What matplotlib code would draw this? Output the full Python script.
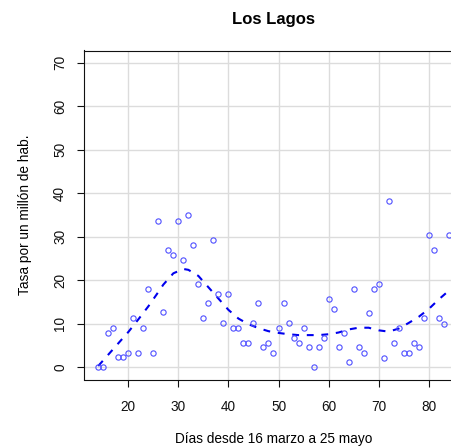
import matplotlib
matplotlib.use("Agg")
import matplotlib.pyplot as plt

# datos: dias desde el inicio y tasa por millon de habitantes
dias = list(range(14, 85))
tasa = [0.0, 0.0, 7.8, 9.1, 2.3, 2.3, 3.4, 11.3, 3.4, 9.1,
        17.9, 3.4, 33.6, 12.6, 27.0, 25.8, 33.6, 24.7, 34.9, 28.2,
        19.1, 11.3, 14.7, 29.2, 16.9, 10.1, 16.9, 9.1, 9.1, 5.7,
        5.7, 10.1, 14.7, 4.7, 5.7, 3.4, 9.1, 14.7, 10.1, 6.8,
        5.7, 9.1, 4.7, 0.0, 4.7, 6.8, 15.7, 13.5, 4.7, 7.8,
        1.2, 17.9, 4.7, 3.4, 12.5, 17.9, 19.1, 2.2, 38.2, 5.6,
        9.1, 3.4, 3.4, 5.7, 4.7, 11.3, 30.4, 27.0, 11.3, 10.0,
        30.4]

# curva suavizada (loess)
suave_x = [14, 16, 18, 20, 22, 24, 26, 27, 29, 31, 32, 34, 36, 38, 40,
           42, 44, 46, 48, 50, 52, 54, 56, 58, 60, 62, 64, 66, 68, 70,
           72, 74, 76, 78, 80, 82, 84]
suave_y = [0.3, 2.9, 5.5, 8.1, 11.0, 14.0, 17.3, 19.0, 21.6, 22.6, 22.4,
           21.0, 18.4, 15.8, 13.2, 11.2, 9.9, 9.0, 8.3, 7.9, 7.6, 7.4,
           7.4, 7.4, 7.6, 8.0, 8.7, 9.1, 9.1, 8.5, 8.2, 8.9, 10.2, 11.6,
           13.4, 15.6, 17.6]

xticks = [20, 30, 40, 50, 60, 70, 80]
yticks = [0, 10, 20, 30, 40, 50, 60, 70]

plt.rcParams['font.family'] = ['Liberation Sans', 'DejaVu Sans']

fig = plt.figure(figsize=(4.52, 4.46), dpi=100)
ax = fig.add_axes([84 / 452, (446 - 379.5) / 446, (463 - 84) / 452, 329 / 446])

for t in xticks:
    ax.axvline(t, color='#dcdcdc', lw=1.0, zorder=0)
for t in yticks:
    ax.axhline(t, color='#dcdcdc', lw=1.0, zorder=0)

ax.plot(dias, tasa, linestyle='none', marker='o', markersize=3.8,
        markerfacecolor='none', markeredgecolor='#5050ff', markeredgewidth=0.8,
        zorder=3)
ax.plot(suave_x, suave_y, color='#0000ee', lw=1.5, dashes=(3.3, 3.7), zorder=2)

ax.set_xlim(11.16, 86.84)
ax.set_ylim(-2.8, 72.8)
ax.set_xticks(xticks)
ax.set_yticks(yticks)
ax.tick_params(direction='out', length=5.2, width=0.8, labelsize=9.8,
               colors='#111111')
ax.tick_params(axis='x', pad=9.5)
ax.tick_params(axis='y', pad=7.0, labelrotation=90)
for lab in ax.get_yticklabels():
    lab.set_va('center')
for s in ax.spines.values():
    s.set_linewidth(0.8)
    s.set_color('#111111')

ax.set_title('Los Lagos', fontsize=12, fontweight='bold', pad=19)
ax.set_xlabel('Días desde 16 marzo a 25 mayo', fontsize=9.8, labelpad=13)
ax.set_ylabel('Tasa por un millón de hab.', fontsize=9.8, labelpad=15)

fig.savefig('out.png', dpi=100)
